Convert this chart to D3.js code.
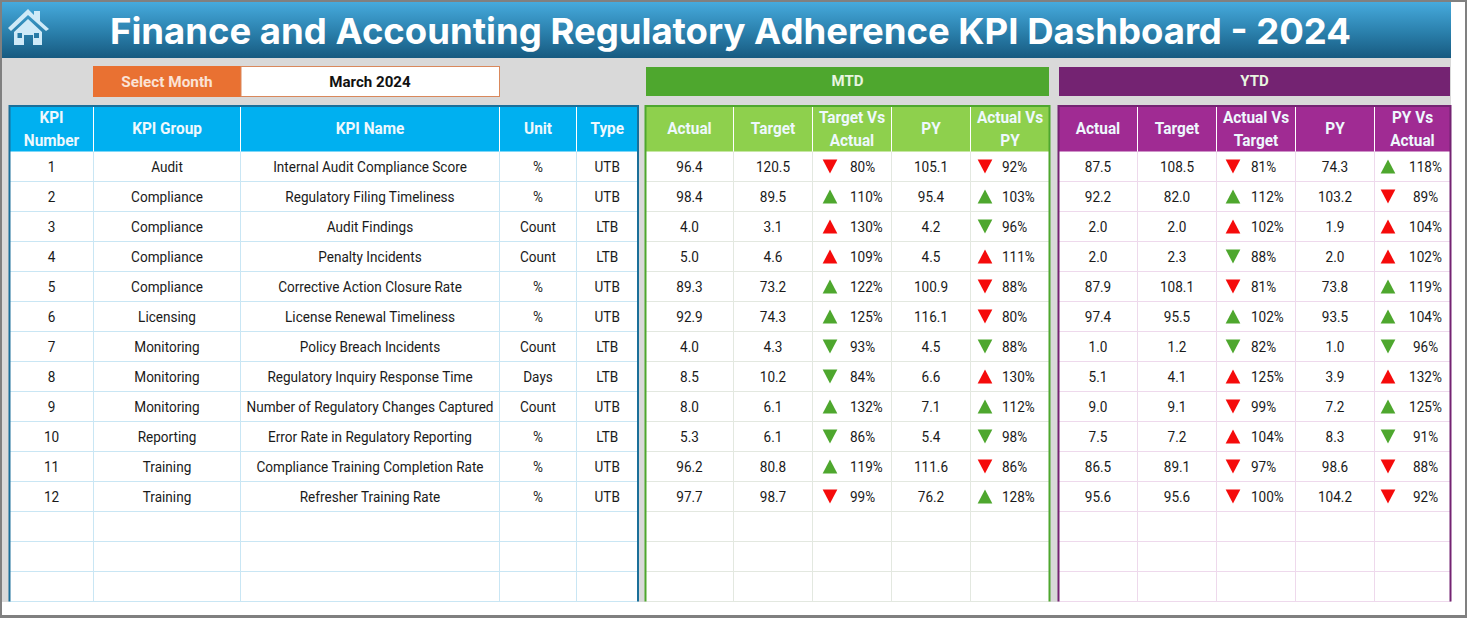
<!DOCTYPE html>
<html>
<head>
<meta charset="utf-8">
<script src="https://cdn.jsdelivr.net/npm/d3@7"></script>
<style>
html, body { margin: 0; padding: 0; background: #fff; }
svg { display: block; }
text { font-family: Roboto, sans-serif; }
</style>
</head>
<body>
<svg id="root" width="1467" height="618"></svg>
<script>
const titleText = 'Finance and Accounting Regulatory Adherence KPI Dashboard - 2024';
const selectedMonth = 'March 2024';

const kpiNumbers = ['1', '2', '3', '4', '5', '6', '7', '8', '9', '10', '11', '12'];
const kpiGroups = ['Audit', 'Compliance', 'Compliance', 'Compliance', 'Compliance', 'Licensing', 'Monitoring', 'Monitoring', 'Monitoring', 'Reporting', 'Training', 'Training'];
const kpiNames = ['Internal Audit Compliance Score', 'Regulatory Filing Timeliness', 'Audit Findings', 'Penalty Incidents', 'Corrective Action Closure Rate', 'License Renewal Timeliness', 'Policy Breach Incidents', 'Regulatory Inquiry Response Time', 'Number of Regulatory Changes Captured', 'Error Rate in Regulatory Reporting', 'Compliance Training Completion Rate', 'Refresher Training Rate'];
const kpiUnits = ['%', '%', 'Count', 'Count', '%', '%', 'Count', 'Days', 'Count', '%', '%', '%'];
const kpiTypes = ['UTB', 'UTB', 'LTB', 'LTB', 'UTB', 'UTB', 'LTB', 'LTB', 'UTB', 'LTB', 'UTB', 'UTB'];

const mtdActual = [96.4, 98.4, 4.0, 5.0, 89.3, 92.9, 4.0, 8.5, 8.0, 5.3, 96.2, 97.7];
const mtdTarget = [120.5, 89.5, 3.1, 4.6, 73.2, 74.3, 4.3, 10.2, 6.1, 6.1, 80.8, 98.7];
const mtdVsTarget = [80, 110, 130, 109, 122, 125, 93, 84, 132, 86, 119, 99];
const mtdPY = [105.1, 95.4, 4.2, 4.5, 100.9, 116.1, 4.5, 6.6, 7.1, 5.4, 111.6, 76.2];
const mtdVsPY = [92, 103, 96, 111, 88, 80, 88, 130, 112, 98, 86, 128];

const ytdActual = [87.5, 92.2, 2.0, 2.0, 87.9, 97.4, 1.0, 5.1, 9.0, 7.5, 86.5, 95.6];
const ytdTarget = [108.5, 82.0, 2.0, 2.3, 108.1, 95.5, 1.2, 4.1, 9.1, 7.2, 89.1, 95.6];
const ytdVsTarget = [81, 112, 102, 88, 81, 102, 82, 125, 99, 104, 97, 99.9];
const ytdPY = [74.3, 103.2, 1.9, 2.0, 73.8, 93.5, 1.0, 3.9, 7.2, 8.3, 98.6, 104.2];
const ytdVsPY = [118, 89, 104, 102, 119, 104, 96, 132, 125, 91, 88, 92];

const root = d3.select('#root');
const svgWidth = +root.attr('width');
const svgHeight = +root.attr('height');

const rowCount = 15;
const headerTop = 106;
const tableTop = 151.5;
const rowHeight = 30;
const rowScale = d3.scaleLinear().domain([0, rowCount]).range([tableTop, tableTop + rowCount * rowHeight]);

const one = d3.format('.1f');
const pct = d3.format('.0f');
const good = '#4ea72e';
const bad = '#f50b0b';
const bodyFont = 15;
const bodySqueeze = 0.905;

const panels = [
    {
        edges: [9.5, 93.5, 240.5, 499.5, 576.5, 638],
        head: '#00b0f0', frame: '#1b6f99', grid: '#c9e6f4',
        headers: [['KPI', 'Number'], ['KPI Group'], ['KPI Name'], ['Unit'], ['Type']],
        cols: [kpiNumbers, kpiGroups, kpiNames, kpiUnits, kpiTypes]
    },
    {
        edges: [645.5, 733.5, 812.5, 891.5, 970.5, 1049.5],
        head: '#8ed04d', frame: '#4ea72e', grid: '#e3e8e0',
        headers: [['Actual'], ['Target'], ['Target Vs', 'Actual'], ['PY'], ['Actual Vs', 'PY']],
        cols: [mtdActual.map(one), mtdTarget.map(one), mtdVsTarget, mtdPY.map(one), mtdVsPY],
        arrows: { 2: { dx: 17.5, tx: 37.5, anchor: 'start' }, 4: { dx: 14.5, tx: 31.5, anchor: 'start' } }
    },
    {
        edges: [1058.5, 1137.5, 1216.5, 1295.5, 1374.5, 1450.5],
        head: '#a02b93', frame: '#742372', grid: '#eed9ec',
        headers: [['Actual'], ['Target'], ['Actual Vs', 'Target'], ['PY'], ['PY Vs', 'Actual']],
        cols: [ytdActual.map(one), ytdTarget.map(one), ytdVsTarget, ytdPY.map(one), ytdVsPY],
        arrows: { 2: { dx: 16.5, tx: 34.5, anchor: 'start' }, 4: { dx: 13.5, tx: 51, anchor: 'middle' } }
    }
];

// page background and sheet area
root.append('rect').attr('width', svgWidth).attr('height', svgHeight).attr('fill', '#808080');
root.append('rect').attr('x', 2).attr('y', 2).attr('width', svgWidth - 4).attr('height', svgHeight - 5).attr('fill', '#ffffff');
root.append('rect').attr('x', 2).attr('y', 2).attr('width', 1449).attr('height', 600).attr('fill', '#d9d9d9');

// title bar
const grad = root.append('defs').append('linearGradient')
    .attr('id', 'titleGrad').attr('x1', 0).attr('x2', 0).attr('y1', 0).attr('y2', 1);
grad.append('stop').attr('offset', '0%').attr('stop-color', '#46aadd');
grad.append('stop').attr('offset', '55%').attr('stop-color', '#2a7fab');
grad.append('stop').attr('offset', '100%').attr('stop-color', '#175a80');
root.append('rect').attr('x', 2).attr('y', 2).attr('width', 1449).attr('height', 56).attr('fill', 'url(#titleGrad)');
root.append('text').text(titleText)
    .attr('x', 110).attr('y', 44)
    .attr('textLength', 1241).attr('lengthAdjust', 'spacingAndGlyphs')
    .attr('font-size', 36).attr('font-weight', 700).attr('fill', '#ffffff')
    .style('font-family', 'Inter, sans-serif');

// home icon
const icon = root.append('g').attr('transform', 'translate(8,9)');
icon.append('path')
    .attr('d', 'M0 19 L20 0 L26 6 L26 2 L32 2 L32 12 L41 20 L38 22 L20 6 L3 22 Z')
    .attr('fill', '#cfeaf8');
icon.append('path')
    .attr('d', 'M6 23 L20 10 L34 23 L34 36 L25 36 L25 26 L16 26 L16 36 L6 36 Z M9.5 24 L9.5 29 L14 29 L14 24 Z M26 24 L26 29 L31 29 L31 24 Z')
    .attr('fill', '#cfeaf8').attr('fill-rule', 'evenodd');

// month selector
root.append('rect').attr('x', 93).attr('y', 66).attr('width', 148).attr('height', 31).attr('fill', '#e97132');
root.append('rect').attr('x', 241).attr('y', 66.5).attr('width', 258.5).attr('height', 30).attr('fill', '#ffffff').attr('stroke', '#d9885c');
root.append('text').text('Select Month')
    .attr('x', 167).attr('y', 81.5).attr('dy', '0.35em').attr('text-anchor', 'middle')
    .attr('font-size', 15.3).attr('font-weight', 700).attr('fill', '#fbe3d6');
root.append('text').text(selectedMonth)
    .attr('x', 370).attr('y', 81.5).attr('dy', '0.35em').attr('text-anchor', 'middle')
    .attr('font-size', 15.1).attr('font-weight', 700).attr('fill', '#111111');

// MTD and YTD bands
const bands = [
    { x0: 646, x1: 1049, fill: '#4ea72e', label: 'MTD' },
    { x0: 1059, x1: 1450, fill: '#742372', label: 'YTD' }
];
bands.forEach(b => {
    root.append('rect').attr('x', b.x0).attr('y', 67).attr('width', b.x1 - b.x0).attr('height', 29).attr('fill', b.fill);
    root.append('text').text(b.label)
        .attr('x', (b.x0 + b.x1) / 2).attr('y', 81).attr('dy', '0.35em').attr('text-anchor', 'middle')
        .attr('font-size', 15).attr('font-weight', 700).attr('fill', '#e8f5e0');
});

// flat triangle, wider than the equilateral symbol d3 ships
const flatTriangle = {
    draw(context, size) {
        const h = Math.sqrt(size) / 2;
        context.moveTo(0, -h);
        context.lineTo(h * 1.05, h);
        context.lineTo(-h * 1.05, h);
        context.closePath();
    }
};
const triangle = d3.symbol().type(flatTriangle).size(196);

const renderPanel = (selection, panel) => {
    const g = selection.append('g');
    const e = panel.edges;
    const left = e[0], right = e[e.length - 1];
    const tableBottom = rowScale(rowCount);

    g.append('rect').attr('x', left).attr('y', headerTop).attr('width', right - left).attr('height', tableBottom - headerTop).attr('fill', '#ffffff');
    g.append('rect').attr('x', left).attr('y', headerTop).attr('width', right - left).attr('height', tableTop - headerTop).attr('fill', panel.head);

    // horizontal grid
    g.selectAll('line.h').data(d3.range(1, rowCount + 1)).enter().append('line')
        .attr('x1', left).attr('x2', right)
        .attr('y1', d => rowScale(d)).attr('y2', d => rowScale(d))
        .attr('stroke', panel.grid);

    // vertical grid, white in the header
    const inner = e.slice(1, -1);
    g.selectAll('line.v').data(inner).enter().append('line')
        .attr('x1', d => d).attr('x2', d => d)
        .attr('y1', tableTop).attr('y2', tableBottom)
        .attr('stroke', panel.grid);
    g.selectAll('line.vh').data(inner).enter().append('line')
        .attr('x1', d => d).attr('x2', d => d)
        .attr('y1', headerTop).attr('y2', tableTop)
        .attr('stroke', '#ffffff');

    // header labels
    panel.headers.forEach((lines, c) => {
        const cx = (e[c] + e[c + 1]) / 2;
        lines.forEach((line, l) => {
            const y = lines.length === 1 ? 128.5 : 117.3 + l * 23;
            g.append('text').text(line)
                .attr('transform', `translate(${cx},${y}) scale(0.96,1)`)
                .attr('dy', '0.35em').attr('text-anchor', 'middle')
                .attr('font-size', 16).attr('font-weight', 700)
                .attr('fill', '#eef8fd');
        });
    });

    // body cells
    panel.cols.forEach((values, c) => {
        const arrow = panel.arrows && panel.arrows[c];
        const x = arrow ? e[c] + arrow.tx : (e[c] + e[c + 1]) / 2;
        const col = g.append('g');
        col.selectAll('text').data(values).enter().append('text')
            .text(d => arrow ? pct(d) + '%' : d)
            .attr('transform', (d, i) => `translate(${x},${rowScale(i) + 15.5}) scale(${bodySqueeze},1)`)
            .attr('dy', '0.35em')
            .attr('text-anchor', arrow ? arrow.anchor : 'middle')
            .attr('font-size', bodyFont)
            .attr('fill', '#1a1a1a');
        if (arrow) {
            col.selectAll('path').data(values).enter().append('path')
                .attr('d', triangle)
                .attr('transform', (d, i) => {
                    const cy = rowScale(i) + 15;
                    return `translate(${e[c] + arrow.dx},${cy})` + (d < 100 ? ' rotate(180)' : '');
                })
                .attr('fill', (d, i) => {
                    const up = d >= 100;
                    return (kpiTypes[i] === 'UTB') === up ? good : bad;
                });
        }
    });

    // panel frame, open at the bottom
    g.append('path')
        .attr('d', `M${left} ${tableBottom} V${headerTop} H${right} V${tableBottom}`)
        .attr('fill', 'none').attr('stroke', panel.frame).attr('stroke-width', 2);
};

panels.forEach(p => renderPanel(root, p));
</script>
</body>
</html>
